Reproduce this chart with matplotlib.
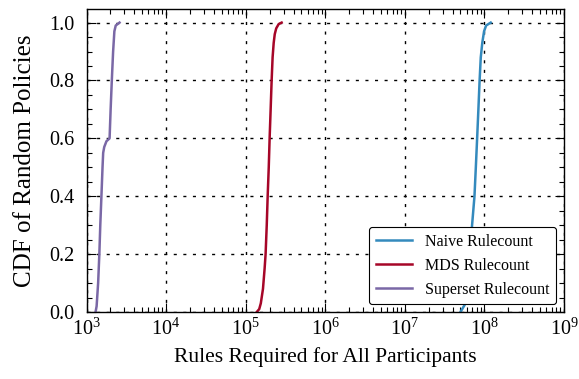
import matplotlib
matplotlib.use("Agg")
import matplotlib.pyplot as plt
import matplotlib.ticker as mticker
import numpy as np

plt.rcParams['font.family'] = ['Liberation Serif', 'DejaVu Serif']
plt.rcParams['mathtext.fontset'] = 'stix'

# CDF y-levels and x-values
superset_y = [0.0, 0.02, 0.1, 0.2, 0.3, 0.4, 0.5, 0.55, 0.57, 0.59, 0.6, 0.7, 0.8, 0.9, 0.97, 0.99, 1.0]
superset_x = [1300, 1340, 1400, 1450, 1490, 1540, 1590, 1620, 1670, 1780, 1950, 2010, 2080, 2160, 2240, 2330, 2600]

mds_y = [0.0, 0.01, 0.03, 0.08, 0.15, 0.2, 0.3, 0.4, 0.5, 0.6, 0.7, 0.8, 0.88, 0.93, 0.96, 0.98, 0.995, 1.0]
mds_x = [1.38e5, 1.48e5, 1.55e5, 1.65e5, 1.73e5, 1.78e5, 1.84e5, 1.89e5, 1.95e5, 2.0e5,
         2.06e5, 2.12e5, 2.18e5, 2.25e5, 2.32e5, 2.42e5, 2.6e5, 2.83e5]

naive_y = [0.0, 0.03, 0.1, 0.2, 0.28, 0.4, 0.5, 0.6, 0.7, 0.8, 0.88, 0.93, 0.97, 0.99, 1.0]
naive_x = [5.0e7, 5.8e7, 6.2e7, 6.6e7, 6.9e7, 7.5e7, 7.8e7, 8.1e7, 8.4e7, 8.7e7,
           9.0e7, 9.4e7, 9.9e7, 1.05e8, 1.2e8]

labels = ["Naive Rulecount", "MDS Rulecount", "Superset Rulecount"]
colors = ["#348ABD", "#A60628", "#7A68A6"]
xticks = [1e3, 1e4, 1e5, 1e6, 1e7, 1e8, 1e9]
yticks = [0.0, 0.2, 0.4, 0.6, 0.8, 1.0]

fig = plt.figure(figsize=(5.79, 3.79), dpi=100)
ax = fig.add_axes([86.5 / 579, 1 - 312 / 379, (564 - 86.5) / 579, (312 - 9) / 379])

ax.plot(naive_x, naive_y, color=colors[0], lw=1.8, label=labels[0])
ax.plot(mds_x, mds_y, color=colors[1], lw=1.8, label=labels[1])
ax.plot(superset_x, superset_y, color=colors[2], lw=1.8, label=labels[2])

ax.set_xscale('log')
ax.set_xlim(1e3, 1e9)
ax.set_ylim(0, 1.047)
ax.set_xticks(xticks)
ax.set_yticks(yticks)
ax.set_yticklabels([f"{v:.1f}" for v in yticks])
ax.yaxis.set_minor_locator(mticker.MultipleLocator(0.05))
ax.xaxis.set_minor_locator(mticker.LogLocator(base=10, subs=np.arange(2, 10), numticks=20))
ax.xaxis.set_minor_formatter(mticker.NullFormatter())

ax.tick_params(which='both', direction='in', top=True, right=True, labelsize=14.5)
ax.tick_params(which='major', length=6.5, width=0.8)
ax.tick_params(axis='y', which='major', pad=9)
ax.tick_params(axis='x', which='major', pad=5)
ax.tick_params(which='minor', length=3.5, width=0.8)
for s in ax.spines.values():
    s.set_linewidth(1.0)

ax.grid(True, which='major', color='black', linestyle=(0, (2.2, 4.7)), linewidth=1.0)
ax.set_axisbelow(True)

ax.set_xlabel("Rules Required for All Participants", fontsize=15.5, labelpad=5)
ax.set_ylabel("CDF of Random Policies", fontsize=18, labelpad=9)

leg = ax.legend(loc='lower right', fontsize=11.5, frameon=True, fancybox=True,
                edgecolor='black', framealpha=1.0, handlelength=2.3,
                labelspacing=0.5, borderaxespad=0.5)
leg.get_frame().set_linewidth(0.8)

fig.savefig("out.png", dpi=100)
